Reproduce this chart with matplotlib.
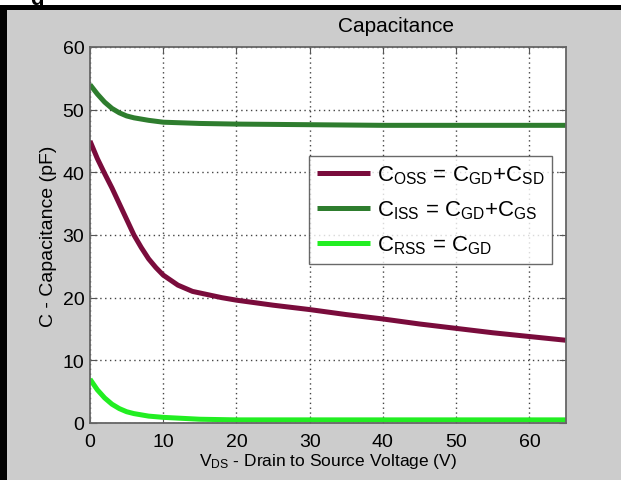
import numpy as np
import matplotlib
matplotlib.use("Agg")
import matplotlib.pyplot as plt
from matplotlib.patches import Rectangle

plt.rcParams['font.family'] = ['Liberation Sans', 'DejaVu Sans']
plt.rcParams['mathtext.fontset'] = 'custom'
plt.rcParams['mathtext.rm'] = 'Liberation Sans'
plt.rcParams['mathtext.it'] = 'Liberation Sans'

# Capacitance curves
v_oss = [0, 1, 2, 3, 4, 5, 6, 7, 8, 9, 10, 12, 14, 16, 18, 20, 25, 30, 35, 40, 45, 50, 55, 60, 65]
c_oss = [45, 42.2, 39.8, 37.5, 35, 32.5, 30, 28, 26.2, 24.8, 23.6, 22, 21, 20.5, 20, 19.6,
         18.8, 18.1, 17.3, 16.6, 15.8, 15.1, 14.4, 13.8, 13.2]

v_iss = [0, 1, 2, 3, 4, 5, 6, 8, 10, 15, 20, 30, 40, 65]
c_iss = [54, 52.5, 51.2, 50.2, 49.5, 49, 48.7, 48.3, 48, 47.8, 47.7, 47.6, 47.5, 47.5]

v_rss = [0, 1, 2, 3, 4, 5, 6, 8, 10, 15, 20, 65]
c_rss = [7, 5.3, 4.0, 3.0, 2.3, 1.8, 1.5, 1.1, 0.9, 0.6, 0.5, 0.5]

labels = [r'C$_{\mathrm{OSS}}$ = C$_{\mathrm{GD}}$+C$_{\mathrm{SD}}$',
          r'C$_{\mathrm{ISS}}$ = C$_{\mathrm{GD}}$+C$_{\mathrm{GS}}$',
          r'C$_{\mathrm{RSS}}$ = C$_{\mathrm{GD}}$']
colors = ['#7a0c3c', '#2e7d2e', '#22ee22']

x_ticks = [0, 10, 20, 30, 40, 50, 60]
y_ticks = [0, 10, 20, 30, 40, 50, 60]

W, H = 621, 481
fig = plt.figure(figsize=(W / 100, H / 100), dpi=100, facecolor='#cccccc')

# frame pieces of the cropped figure
fig.patches.append(Rectangle((0, 1 - 6 / H), 1, 6 / H, transform=fig.transFigure,
                             facecolor='white', edgecolor='none', zorder=0))
fig.patches.append(Rectangle((0, 1 - 11 / H), 1, 5 / H, transform=fig.transFigure,
                             facecolor='black', edgecolor='none', zorder=0))
fig.patches.append(Rectangle((0, 0), 7 / W, 1 - 6 / H, transform=fig.transFigure,
                             facecolor='black', edgecolor='none', zorder=0))
fig.text(37 / W, 1 - 5 / H, 'g', fontsize=16, fontweight='bold', va='baseline', ha='center')

ax = fig.add_axes([90 / W, 1 - 424 / H, 476 / W, 376 / H])
ax.set_facecolor('white')

ax.plot(v_oss, c_oss, color=colors[0], lw=3.6, label=labels[0], solid_capstyle='butt')
ax.plot(v_iss, c_iss, color=colors[1], lw=3.6, label=labels[1], solid_capstyle='butt')
ax.plot(v_rss, c_rss, color=colors[2], lw=3.6, label=labels[2], solid_capstyle='butt')

ax.set_xlim(0, 65)
ax.set_ylim(0, 60)
ax.set_xticks(x_ticks)
ax.set_yticks(y_ticks)
ax.grid(True, linestyle=(0, (1, 2.5)), color='#444444', lw=1.0)
ax.tick_params(direction='in', top=True, right=True, length=5, color='#555555',
               labelsize=14, pad=7)
ax.tick_params(axis='y', pad=4)
for s in ax.spines.values():
    s.set_color('#666666')
    s.set_linewidth(1.3)

ax.set_xlabel(r'V$_{\mathrm{DS}}$ - Drain to Source Voltage (V)', fontsize=12.5, labelpad=1)
ax.set_ylabel('C - Capacitance (pF)', fontsize=14, labelpad=4)

fig.text(396 / W, 1 - 27 / H, 'Capacitance', fontsize=15, ha='center', va='center')

leg = ax.legend(loc='upper left', bbox_to_anchor=((309 - 90) / 476, (424 - 157) / 376),
                fontsize=16, frameon=True, fancybox=False, handlelength=2.4,
                borderpad=0.35, labelspacing=0.55, handletextpad=0.3, borderaxespad=0)
leg.get_frame().set_edgecolor('#444444')
leg.get_frame().set_linewidth(1.0)

fig.savefig('out.png', dpi=100, facecolor=fig.get_facecolor())
